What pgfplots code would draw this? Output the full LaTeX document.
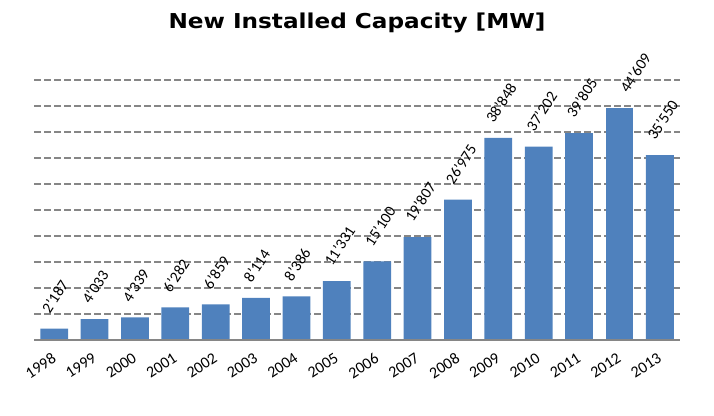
\documentclass[border=0pt]{standalone}
\usepackage{fontspec}
\setmainfont{Carlito}
\newfontfamily\titlefont{DejaVu Sans}
\usepackage{pgfplots}
\pgfplotsset{compat=1.18}
\definecolor{barblue}{HTML}{4F81BD}
\definecolor{gridgray}{HTML}{868686}
\begin{document}
\begin{tikzpicture}
\begin{axis}[
  scale only axis,
  width=646pt, height=260pt,
  xmin=-0.5, xmax=15.5,
  ymin=0, ymax=50000,
  axis lines=left,
  axis line style={draw=none},
  tick style={draw=none},
  xtick={0,1,...,15},
  xticklabels={1998,1999,2000,2001,2002,2003,2004,2005,2006,2007,2008,2009,2010,2011,2012,2013},
  xticklabel style={xshift=-3pt, yshift=-10pt, rotate=33, anchor=north east, font=\fontsize{16}{17}\selectfont, inner sep=0pt},
  ytick=\empty,
  clip=false,
  /pgf/number format/assume math mode=true,
  /pgf/number format/1000 sep={'},
  /pgf/number format/fixed,
]
\foreach \yy in {5000,10000,15000,20000,25000,30000,35000,40000,45000,50000}{
  \edef\tmp{\noexpand\draw[gridgray, line width=2pt, dash pattern=on 6.5pt off 3.5pt] (axis cs:-0.5,\yy) -- (axis cs:15.5,\yy);}
  \tmp
}
\addplot[ybar, bar width=0.69, fill=barblue, draw=none,
  nodes near coords,
  nodes near coords style={xshift=-9pt, yshift=17pt, rotate=57, anchor=west, font=\fontsize{15.5}{16}\selectfont, inner sep=0pt},
  point meta=explicit]
  table[x=x, y=y, meta=y] {
x y
0 2187
1 4033
2 4339
3 6282
4 6859
5 8114
6 8386
7 11331
8 15100
9 19807
10 26975
11 38848
12 37202
13 39805
15 35550
};
\addplot[ybar, bar width=0.69, fill=barblue, draw=none,
  nodes near coords,
  nodes near coords style={xshift=4pt, yshift=17pt, rotate=57, anchor=west, font=\fontsize{15.5}{16}\selectfont, inner sep=0pt},
  point meta=explicit]
  table[x=x, y=y, meta=y] {
x y
14 44609
};
\draw[gridgray, line width=2.7pt] (axis cs:-0.5,0) -- (axis cs:15.5,0);
\node[font=\titlefont\bfseries\fontsize{20.5}{22}\selectfont, anchor=base, xscale=1.13] at ([yshift=52pt]axis cs:7.5,50000) {New Installed Capacity [MW]};
\end{axis}
\pgfresetboundingbox
\useasboundingbox (-34pt,-75pt) rectangle (680pt,340pt);
\end{tikzpicture}
\end{document}
